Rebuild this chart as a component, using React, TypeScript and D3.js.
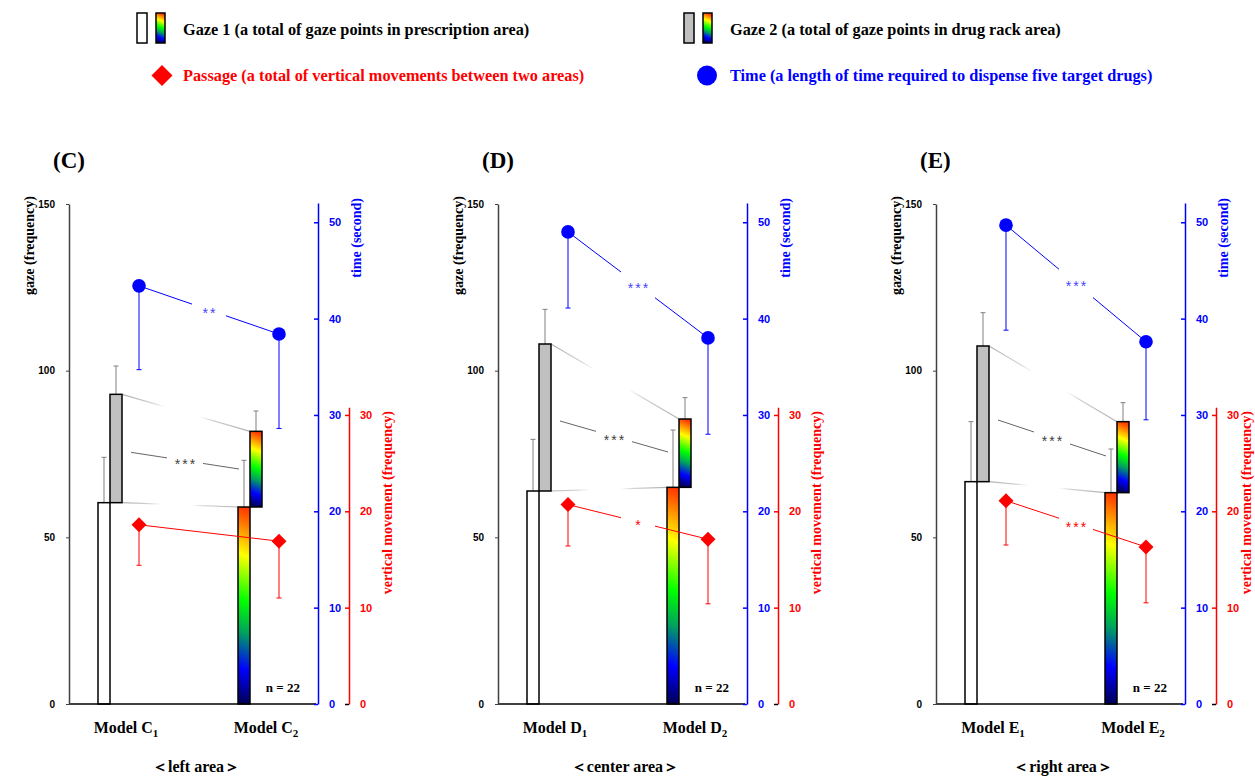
import React, { useEffect, useRef } from "react";
import * as d3 from "d3";

// panels (C) (D) (E), two models each
const panels = ["C", "D", "E"];
const areaLabels = ["left area", "center area", "right area"];
const models = ["1", "2"];

// gaze 1 / gaze 2 (frequency), mean and SD per model
const gaze1Mean = [[60.4, 59.1], [63.9, 65.0], [66.7, 63.4]];
const gaze1Sd = [[13.6, 14.0], [15.5, 17.2], [18.0, 13.1]];
const gaze2Mean = [[32.5, 22.7], [44.1, 20.5], [40.7, 21.3]];
const gaze2Sd = [[8.5, 6.1], [10.4, 6.4], [10.0, 5.7]];

// time (second)
const timeMean = [[43.4, 38.4], [49.0, 38.0], [49.7, 37.6]];
const timeSd = [[8.7, 9.8], [7.9, 10.0], [10.9, 8.1]];

// passage, vertical movement (frequency)
const passageMean = [[18.6, 16.9], [20.7, 17.1], [21.1, 16.3]];
const passageSd = [[4.2, 5.9], [4.3, 6.7], [4.6, 5.8]];

// significance marks
const gazeSig = ["***", "***", "***"];
const timeSig = ["**", "***", "***"];
const passageSig = ["", "*", "***"];
// gaze significance line, start / end (gaze units)
const gazeSigLine = [[75.5, 70.5], [84.9, 75.6], [85.2, 74.4]];

const gazeTicks = [0, 50, 100, 150];
const timeTicks = [0, 10, 20, 30, 40, 50];
const passageTicks = [0, 10, 20, 30];
const nLabel = "n = 22";

const legendGaze1 = "Gaze 1 (a total of gaze points in prescription area)";
const legendGaze2 = "Gaze 2 (a total of gaze points in drug rack area)";
const legendPassage = "Passage (a total of vertical movements between two areas)";
const legendTime = "Time (a length of time required to dispense five target drugs)";

const W = 1255, H = 776;
const panelLeft = [69, 498, 936];
const serif = '"Times New Roman", "Liberation Serif", serif';
const sans = '"Liberation Sans", Arial, sans-serif';
const BLUE = "#0000ff", RED = "#ff0000";

const rainbowStops = [
  [0, "#ff0000"], [0.1, "#ff5000"], [0.28, "#ffff00"], [0.48, "#00ff00"],
  [0.62, "#00a060"], [0.78, "#0000ff"], [0.95, "#000040"]
];

function drawChart(node) {
  const svg = d3.select(node);
  svg.selectAll("*").remove();
  const defs = svg.append("defs");
  let gid = 0;

  function rainbow(x, y, w, h) {
    const id = "rb" + gid++;
    const dx = h * 0.4;
    const lg = defs.append("linearGradient").attr("id", id)
      .attr("gradientUnits", "userSpaceOnUse")
      .attr("x1", x + w / 2 + dx / 2).attr("y1", y)
      .attr("x2", x + w / 2 - dx / 2).attr("y2", y + h);
    rainbowStops.forEach(function (s) {
      lg.append("stop").attr("offset", s[0]).attr("stop-color", s[1]);
    });
    return "url(#" + id + ")";
  }

  function fade(x1, y1, x2, y2) {
    const id = "fd" + gid++;
    const lg = defs.append("linearGradient").attr("id", id)
      .attr("gradientUnits", "userSpaceOnUse")
      .attr("x1", x1).attr("y1", y1).attr("x2", x2).attr("y2", y2);
    [[0, 1], [0.22, 0.6], [0.34, 0], [0.6, 0], [0.72, 0.6], [1, 1]].forEach(function (s) {
      lg.append("stop").attr("offset", s[0]).attr("stop-color", "#b0b0b0").attr("stop-opacity", s[1]);
    });
    return "url(#" + id + ")";
  }

  function gapLine(sel, x1, y1, x2, y2, gap, color) {
    const mx = (x1 + x2) / 2, slope = (y2 - y1) / (x2 - x1);
    const segs = gap > 0 ? [[x1, mx - gap], [mx + gap, x2]] : [[x1, x2]];
    segs.forEach(function (s) {
      sel.append("line")
        .attr("x1", s[0]).attr("y1", y1 + slope * (s[0] - x1))
        .attr("x2", s[1]).attr("y2", y1 + slope * (s[1] - x1))
        .attr("stroke", color).attr("stroke-width", 1);
    });
  }

  function sigText(sel, x, y, txt, color) {
    sel.append("text").attr("x", x + 1).attr("y", y + 8)
      .attr("text-anchor", "middle").attr("font-family", sans)
      .attr("font-size", 14).attr("letter-spacing", 2).attr("fill", color)
      .text(txt);
  }

  function errBar(sel, x, y1, y2, color) {
    sel.append("line").attr("x1", x).attr("x2", x).attr("y1", y1).attr("y2", y2)
      .attr("stroke", color).attr("stroke-width", 1);
    sel.append("line").attr("x1", x - 2.5).attr("x2", x + 2.5).attr("y1", y2).attr("y2", y2)
      .attr("stroke", color).attr("stroke-width", 1);
  }

  const diamond = function (r) { return "M0," + (-r) + "L" + r + ",0L0," + r + "L" + (-r) + ",0Z"; };

  // ---------- legend ----------
  const leg = svg.append("g");
  [[137, legendGaze1, "#ffffff"], [684, legendGaze2, "#c0c0c0"]].forEach(function (l) {
    const lx = l[0];
    leg.append("rect").attr("x", lx).attr("y", 13).attr("width", 10).attr("height", 30)
      .attr("fill", l[2]).attr("stroke", "#000").attr("stroke-width", 1.5);
    leg.append("rect").attr("x", lx + 19).attr("y", 13).attr("width", 9).attr("height", 30)
      .attr("fill", rainbow(lx + 19, 13, 9, 30)).attr("stroke", "#000").attr("stroke-width", 1.5);
    leg.append("text").attr("x", lx + 46).attr("y", 35)
      .attr("font-family", serif).attr("font-weight", "bold").attr("font-size", 16.3)
      .attr("fill", "#000").text(l[1]);
  });
  leg.append("path").attr("d", diamond(10.5)).attr("transform", "translate(162,75.5)").attr("fill", RED);
  leg.append("text").attr("x", 183).attr("y", 81)
    .attr("font-family", serif).attr("font-weight", "bold").attr("font-size", 16.3)
    .attr("fill", RED).text(legendPassage);
  leg.append("circle").attr("cx", 707).attr("cy", 75.5).attr("r", 10).attr("fill", BLUE);
  leg.append("text").attr("x", 730).attr("y", 81)
    .attr("font-family", serif).attr("font-weight", "bold").attr("font-size", 16.3)
    .attr("fill", BLUE).text(legendTime);

  // ---------- panels ----------
  panels.forEach(function (p, i) {
    const g = svg.append("g").attr("transform", "translate(" + panelLeft[i] + ",0)");
    const x = d3.scalePoint().domain(models).range([41, 181]);
    const yG = d3.scaleLinear().domain([0, 150]).range([704, 204]);
    const yT = d3.scaleLinear().domain([0, 52]).range([704, 203]);
    const yP = yT.copy();
    const yPaxis = d3.scaleLinear().domain([0, 30.8]).range([704, yP(30.8)]);
    const blueX = 249, redX = 280;

    const m1 = x(models[0]), m2 = x(models[1]);
    const top1 = models.map(function (d, j) { return gaze1Mean[i][j]; });
    const top2 = models.map(function (d, j) { return gaze1Mean[i][j] + gaze2Mean[i][j]; });

    // fading connectors
    g.append("line").attr("x1", m1 + 12).attr("y1", yG(top2[0])).attr("x2", m2).attr("y2", yG(top2[1]))
      .attr("stroke", fade(m1 + 12, yG(top2[0]), m2, yG(top2[1]))).attr("stroke-width", 1.2);
    g.append("line").attr("x1", m1 + 12).attr("y1", yG(top1[0])).attr("x2", m2 - 12).attr("y2", yG(top1[1]))
      .attr("stroke", fade(m1 + 12, yG(top1[0]), m2 - 12, yG(top1[1]))).attr("stroke-width", 1.2);

    // gaze significance
    const sx1 = m1 + 21, sx2 = m2 - 11;
    const sy1 = yG(gazeSigLine[i][0]), sy2 = yG(gazeSigLine[i][1]);
    gapLine(g, sx1, sy1, sx2, sy2, 18, "#666666");
    sigText(g, (sx1 + sx2) / 2, (sy1 + sy2) / 2, gazeSig[i], "#404040");

    // bars
    models.forEach(function (d, j) {
      const m = x(d);
      const b1y = yG(top1[j]), b1h = yG(0) - yG(top1[j]);
      const b2y = yG(top2[j]), b2h = yG(top1[j]) - yG(top2[j]);
      errBar(g, m - 6, b1y, yG(top1[j] + gaze1Sd[i][j]), "#808080");
      errBar(g, m + 6, b2y, yG(top2[j] + gaze2Sd[i][j]), "#808080");
      g.append("rect").attr("x", m - 12).attr("y", b1y).attr("width", 12).attr("height", b1h)
        .attr("fill", j === 0 ? "#ffffff" : rainbow(m - 12, b1y, 12, b1h))
        .attr("stroke", "#000").attr("stroke-width", 1.5);
      g.append("rect").attr("x", m).attr("y", b2y).attr("width", 12).attr("height", b2h)
        .attr("fill", j === 0 ? "#c0c0c0" : rainbow(m, b2y, 12, b2h))
        .attr("stroke", "#000").attr("stroke-width", 1.5);
    });

    // baseline
    g.append("line").attr("x1", 0).attr("x2", blueX - 2).attr("y1", yG(0)).attr("y2", yG(0))
      .attr("stroke", "#000").attr("stroke-width", 1.5);

    // time
    const px = models.map(function (d) { return x(d) + 29; });
    gapLine(g, px[0], yT(timeMean[i][0]), px[1], yT(timeMean[i][1]), timeSig[i] ? 17 : 0, BLUE);
    if (timeSig[i]) sigText(g, (px[0] + px[1]) / 2, (yT(timeMean[i][0]) + yT(timeMean[i][1])) / 2, timeSig[i], "#4444ff");
    models.forEach(function (d, j) {
      errBar(g, px[j], yT(timeMean[i][j]), yT(timeMean[i][j] - timeSd[i][j]), BLUE);
    });
    g.selectAll(".tpt").data(models).enter().append("circle")
      .attr("cx", function (d, j) { return px[j]; })
      .attr("cy", function (d, j) { return yT(timeMean[i][j]); })
      .attr("r", 6.8).attr("fill", BLUE);

    // passage
    gapLine(g, px[0], yP(passageMean[i][0]), px[1], yP(passageMean[i][1]), passageSig[i] ? 17 : 0, RED);
    if (passageSig[i]) sigText(g, (px[0] + px[1]) / 2, (yP(passageMean[i][0]) + yP(passageMean[i][1])) / 2, passageSig[i], RED);
    models.forEach(function (d, j) {
      errBar(g, px[j], yP(passageMean[i][j]), yP(passageMean[i][j] - passageSd[i][j]), RED);
    });
    g.selectAll(".ppt").data(models).enter().append("path")
      .attr("d", diamond(7.5))
      .attr("transform", function (d, j) { return "translate(" + px[j] + "," + yP(passageMean[i][j]) + ")"; })
      .attr("fill", RED);

    // gaze axis
    const axG = g.append("g").call(d3.axisLeft(yG).tickValues(gazeTicks).tickSize(3).tickSizeOuter(0));
    axG.select(".domain").attr("stroke", "#404040").attr("stroke-width", 1.5);
    axG.selectAll(".tick line").attr("stroke", "#404040");
    axG.selectAll("text").attr("x", -14).attr("fill", "#000")
      .attr("font-family", sans).attr("font-weight", "bold").attr("font-size", 10);

    // time axis
    const axT = g.append("g").attr("transform", "translate(" + blueX + ",0)")
      .call(d3.axisLeft(yT).tickValues(timeTicks).tickSize(4).tickSizeOuter(0));
    axT.selectAll(".domain, .tick line").attr("stroke", BLUE).attr("stroke-width", 1.5);
    axT.selectAll("text").attr("x", 11).attr("text-anchor", "start").attr("fill", BLUE)
      .attr("font-family", sans).attr("font-weight", "bold").attr("font-size", 11);

    // passage axis
    const axP = g.append("g").attr("transform", "translate(" + redX + ",0)")
      .call(d3.axisLeft(yPaxis).tickValues(passageTicks).tickSize(4).tickSizeOuter(0));
    axP.selectAll(".domain, .tick line").attr("stroke", RED).attr("stroke-width", 1.5);
    axP.selectAll(".tick line").filter(function (d) { return d === 0; }).attr("stroke", "#000");
    axP.selectAll("text").attr("x", 11).attr("text-anchor", "start").attr("fill", RED)
      .attr("font-family", sans).attr("font-weight", "bold").attr("font-size", 11);

    // axis titles
    const redTitleX = Math.min(panelLeft[i] + redX + 43, W - 4) - panelLeft[i];
    g.append("text").attr("transform", "translate(-35,196) rotate(-90)")
      .attr("text-anchor", "end").attr("font-family", serif).attr("font-weight", "bold")
      .attr("font-size", 14).attr("fill", "#000").text("gaze (frequency)");
    g.append("text").attr("transform", "translate(" + (blueX + 43) + ",198) rotate(-90)")
      .attr("text-anchor", "end").attr("font-family", serif).attr("font-weight", "bold")
      .attr("font-size", 14).attr("fill", BLUE).text("time (second)");
    g.append("text").attr("transform", "translate(" + redTitleX + ",411) rotate(-90)")
      .attr("text-anchor", "end").attr("font-family", serif).attr("font-weight", "bold")
      .attr("font-size", 14).attr("fill", RED).text("vertical movement (frequency)");

    // panel title, n
    g.append("text").attr("x", -16).attr("y", 168).attr("font-family", serif)
      .attr("font-weight", "bold").attr("font-size", 23).attr("fill", "#000").text("(" + p + ")");
    g.append("text").attr("x", blueX - 18).attr("y", 692).attr("text-anchor", "end")
      .attr("font-family", serif).attr("font-weight", "bold").attr("font-size", 13)
      .attr("fill", "#000").text(nLabel);

    // model labels
    models.forEach(function (d) {
      const t = g.append("text").attr("x", x(d) + 16).attr("y", 733).attr("text-anchor", "middle")
        .attr("font-family", serif).attr("font-weight", "bold").attr("font-size", 16).attr("fill", "#000");
      t.append("tspan").text("Model " + p);
      t.append("tspan").attr("dy", 4).attr("font-size", 11).text(d);
    });
    g.append("text").attr("x", (m1 + m2) / 2 + 16).attr("y", 772).attr("text-anchor", "middle")
      .attr("font-family", serif).attr("font-weight", "bold").attr("font-size", 16)
      .attr("fill", "#000").text("＜" + areaLabels[i] + "＞");
  });
}

export default function App() {
  const ref = useRef(null);
  useEffect(function () {
    document.body.style.margin = "0";
    drawChart(ref.current);
  }, []);
  return <svg ref={ref} width={W} height={H} style={{ display: "block", background: "#fff" }} />;
}
